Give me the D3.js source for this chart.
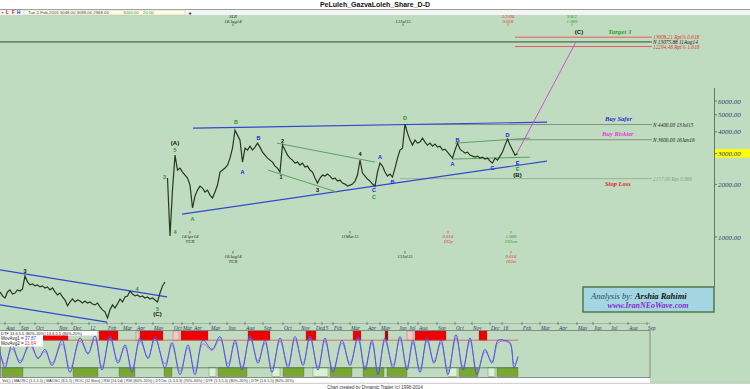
<!DOCTYPE html>
<html><head><meta charset="utf-8">
<script src="https://cdn.jsdelivr.net/npm/d3@7/dist/d3.min.js"></script>
<style>html,body{margin:0;padding:0;background:#fff;}svg{display:block;}</style>
</head><body>
<svg id="chart" width="750" height="389"></svg>
<script>
// ---------------- DATA ----------------
// bar index: one slot on the time axis
const leftStart = 0;
const leftClose = [485,460,448,485,498,472,478,498,491,505,599,553,532,539,525,532,518,525,511,518,498,511,485,466,478,454,436,404,425,442,425,436,430,419,430,419,425,414,409,419,398,383,373,344,383,409,393,414,442,425,454,460,491,472,460,466,454,460,448,454,442,448,436,425,478,525,553];
const mainStart = 67;
const mainClose = [2174,1013,1856,2941,2415,2479,2352,2261,2174,1982,
 1466,1715,1856,1956,1906,1808,1856,1738,1671,1808,
 1982,2352,2415,2479,2579,2828,3225,4087,3827,3583,
 2683,3225,3142,3311,3142,3268,3444,3268,3060,2941,
 2828,2754,2683,2545,2479,2352,3355,3142,2941,2828,
 2754,2648,2683,2579,2648,2512,2545,2415,2352,2174,
 2035,2174,2261,2231,2291,2231,2145,2174,2089,2117,
 2035,2008,1956,1982,2008,2089,2261,2754,2321,2231,
 2145,2089,2008,1956,2352,2648,2545,2352,2231,2291,
 2202,2479,2828,3142,3225,4423,3929,3583,3355,3583,
 3444,3490,3679,3490,3355,3444,3311,3400,3268,3311,
 3142,3183,3060,2941,2828,3142,3444,3183,3101,3020,
 3060,2941,2903,2865,2903,2828,2865,2791,2828,2718,
 2648,2828,2754,2903,3060,3355,3630,3355,3142,2941,3000];

const priceTicks = [1000,2000,3000,4000,5000,6000];
const lastPrice = 3000;

const monthLabels = ["Aug","Sep","Oct","Nov","Dec","12","Feb","Mar","Apr","May","Oct","Mar","Apr","May","Jun","Aug","Sep","Oct","Nov","Dec","15","Feb","Mar","Apr","May","Jun","Jul","Aug","Sep","Oct","Nov","Dec","16","Feb","Mar","Apr","May","Jun","Jul","Aug","Sep"];
const monthBars   = [2,8,14,23.2,28.8,35.6,42.8,48.8,54.4,61.2,69.2,72.8,77.2,84,90.8,98,105.2,113.2,120,126,128.8,133.2,140,146.8,152,159.2,163.2,167.2,174.8,182,188.8,196,200.8,208.8,216,223.2,230.8,237.2,244,251.2,258.8];

const levelPrices = [13908.21,13075.88,12294.48,4400,3600,2157];
const levelLabels = ["13908.21 Rpt% 0.618","N 13075.88 11Aug14","12294.48 Rpt% 1.618","N 4400.00 13Jul15","N 3600.00 16Jan16","2157.00 Rpt 0.886"];
const levelFrom   = [206,0,206,162,203,160];
const levelTo     = 260.8;

const blueLines  = [[[77.2,4196],[218.8,4541]],[[72.8,1353],[218.8,2718]],[[0,648],[66.8,454]],[[0,409],[42.8,326]]];
const greenLines = [[[110.8,3444],[150,2683]],[[107.2,2415],[134.8,1808]],[[182,3444],[212,3679]],[[180.8,2791],[212,2865]]];
const targetPath = [[206.8,3020],[230.4,13075.88]];

// wave labels: [bar, text, kind]
const waveBars  = [70,70,67,68,77,94,97,103,112,113,127,144,150,150,152,157,162,181,183,197,203,207,207,207,10,52,63,63];
const waveTexts = ["5","(A)","3","4","A","B","A","B","1","2","3","4","C","C","A","B","D","A","B","C","D","E","E","(B)","3","4","5","(C)"];
const waveKinds = ["g","k","g","g","g","g","b","b","k","k","k","k","b","g","b","b","g","b","b","b","b","b","g","k","k","g","g","k"];

// oscillator (DTF) turning points
const oscBars = [0,2,4.8,8,12,15.2,18,20.8,24.8,28,32,35.2,38,40.8,44,47.2,50,52.8,56,59.2,62,66,68.8,72,75.2,78,81.2,84.8,88,91.2,94,96.8,100,103.2,106,108.8,112,115.2,118,121.2,124,127.2,130,133.2,136.8,140,143.2,146,148.8,151.2,154,157.2,160,162.8,165.2,168,170.8,173.6,176.4,179.2,182.4,185.2,188,190.8,194,196.8,199.2,201.6,204,205.6,207.2];
const osc1 = [55,20,70,30,75,40,60,25,80,10,85,50,90,15,90,30,70,10,85,40,88,20,75,5,70,5,80,60,88,20,80,15,90,30,80,10,85,20,88,25,90,15,85,10,80,25,88,15,80,5,85,20,88,15,80,10,85,30,80,5,92,15,85,5,60,30,80,80,75,20,45];
const osc2 = [50,28,62,35,68,42,55,30,72,18,78,52,82,22,84,35,65,18,78,42,82,28,70,12,64,12,72,58,82,28,74,22,84,35,74,18,78,26,82,30,84,22,78,16,74,30,82,22,74,12,78,26,82,22,74,16,78,34,74,12,85,22,78,12,55,34,74,78,72,28,40];
const redZones   = [[17.2,27.2,"r"],[39.6,47.2,"r"],[54.4,55.6,"p"],[56,65.2,"r"],[69.2,71.6,"p"],[72.4,83.2,"r"],[99.2,108,"r"],[122.4,126.4,"r"],[141.2,144.4,"r"],[154,155.2,"d"],[162.8,165.2,"p"],[166,178.4,"r"],[191.6,194.8,"r"]];
const greenZones = [[0.8,9.2,"g"],[29.2,39.2,"g"],[47.6,54,"g"],[65.6,68.8,"g"],[83.6,86.4,"l"],[87.2,98.8,"g"],[108.8,112,"l"],[113.2,121.6,"g"],[125.2,131.2,"l"],[132,140.8,"g"],[145.2,153.6,"g"],[154.8,162.8,"g"],[179.2,182.8,"l"],[183.6,191.2,"g"],[195.2,198,"l"],[198.8,207.2,"g"]];

// ---------------- DRAW ----------------
const svg = d3.select("#chart");
const x  = d3.scaleLinear().domain([0,300]).range([0,750]);
const y  = d3.scaleLog().domain([1000,6000]).range([237,101]);
const yo = d3.scaleLinear().domain([0,100]).range([377,331]);
const SERIF = "Liberation Serif", SANS = "Liberation Sans";
function T(g,xp,yp,s,o){o=o||{};return g.append("text").attr("x",xp).attr("y",yp).text(s)
  .attr("font-family",o.f||SERIF).attr("font-size",o.s||6)
  .attr("font-style",o.i===false?"normal":"italic").attr("font-weight",o.b?"bold":"normal")
  .attr("fill",o.c||"#203060").attr("text-anchor",o.a||"start");}

// backgrounds
svg.append("rect").attr("width",750).attr("height",389).attr("fill","#ffffff");
svg.append("rect").attr("x",0).attr("y",15).attr("width",750).attr("height",368).attr("fill","#c0dcc0");
svg.append("line").attr("x1",0).attr("x2",750).attr("y1",9.5).attr("y2",9.5).attr("stroke","#9a9a9a");
svg.append("rect").attr("x",0).attr("y",10).attr("width",750).attr("height",5).attr("fill","#f4f4f4");
svg.append("rect").attr("x",24).attr("y",10).attr("width",161).attr("height",5).attr("fill","#ffffe6").attr("stroke","#bbbbbb").attr("stroke-width",0.5);
T(svg,375,7,"PeLuleh_GazvaLoleh_Share_D-D",{f:SANS,s:7,b:true,i:false,c:"#111",a:"middle"});
T(svg,2,14.3,"▪",{f:SANS,s:4.5,i:false,c:"#d00000"});
T(svg,6,14.3,"L",{f:SANS,s:4.5,i:false,b:true,c:"#d00000"});
T(svg,12,14.3,"F",{f:SANS,s:4.5,i:false,b:true,c:"#d00000"});
T(svg,17,14.3,"H",{f:SANS,s:4.5,i:false,b:true,c:"#2040c0"});
T(svg,28,14.3,"Tue 2-Feb-2016   3048.00   3098.00   2968.00",{f:SANS,s:4.3,i:false,c:"#444"});
T(svg,123,14.3,"3000.00",{f:SANS,s:4.3,i:false,c:"#2a9a2a"});
T(svg,143,14.3,"20.00",{f:SANS,s:4.3,i:false,c:"#2a9a2a"});
T(svg,190,14.6,"+",{f:SANS,s:6,i:false,b:true,c:"#000",a:"middle"});

// horizontal levels
levelPrices.forEach((p,i)=>{
  const isRed = i===0||i===2;
  const col = isRed?"#e85a5a":(i===1?"#6f8a6f":(i===5?"#9db09d":"#7f957f"));
  svg.append("line").attr("x1",x(levelFrom[i])).attr("x2",x(levelTo)).attr("y1",y(p)).attr("y2",y(p))
    .attr("stroke",col).attr("stroke-width",i===1?1.6:1);
  T(svg,x(levelTo)+1,y(p)+2,levelLabels[i],{s:5.3,c:isRed?"#e03030":(i===5?"#8f9f8f":"#1a1a1a")});
});

// trend lines
const lg = d3.line().x(d=>x(d[0])).y(d=>y(d[1]));
blueLines.forEach(l=>svg.append("path").attr("d",lg(l)).attr("stroke","#3048cc").attr("stroke-width",1.2).attr("fill","none"));
greenLines.forEach(l=>svg.append("path").attr("d",lg(l)).attr("stroke","#4f9a4f").attr("stroke-width",0.9).attr("fill","none"));
svg.append("path").attr("d",lg(targetPath)).attr("stroke","#d050d0").attr("stroke-width",1).attr("fill","none");

// price series
const pl = d3.line().x(d=>x(d[0])).y(d=>y(d[1]));
const leftPts = leftClose.map((v,i)=>[leftStart+i,v]);
const mainPts = mainClose.map((v,i)=>[mainStart+i,v]);
[leftPts,mainPts].forEach(pts=>svg.append("path").attr("d",pl(pts)).attr("stroke","#263626").attr("stroke-width",1.2).attr("fill","none").attr("stroke-linejoin","miter"));

// wave labels
function priceAt(b){return b<mainStart?leftClose[b-leftStart]:mainClose[b-mainStart];}
const waveOff = {"0":[0,-5],"1":[0,-12],"2":[-3,-1],"3":[5,-4],"4":[0,11],"5":[1,-8],"6":[0,10],"7":[1,-5],"8":[1,5],"9":[0,-4],"10":[0,7],"11":[0,-6],"12":[-1,4],"13":[-1,11],"14":[0,-6],"15":[0,5],"16":[0,-6],"17":[0,6],"18":[0,-3],"19":[0,5],"20":[0,-4],"21":[0,9],"22":[0,15],"23":[0,21],"24":[0,-5],"25":[7,-2],"26":[0,7],"27":[0,12]};
const kindCol = {g:"#1f9a1f",b:"#2020e0",k:"#111111"};
waveBars.forEach((b,i)=>{
  const o = waveOff[i];
  T(svg,x(b)+o[0],y(priceAt(b))+o[1]+2,waveTexts[i],{f:SANS,s:waveTexts[i].length>1?6:5.5,b:true,i:false,c:kindCol[waveKinds[i]],a:"middle"});
});

// target annotations
T(svg,x(231.6),34,"(C)",{f:SANS,s:6,b:true,i:false,c:"#111",a:"middle"});
T(svg,608,34,"Target 1",{s:7,b:true,c:"#2aa02a"});
T(svg,605,121,"Buy Safer",{s:6.5,b:true,c:"#2828c8"});
T(svg,602,136,"Buy Riskier",{s:6.5,b:true,c:"#e040e0"});
T(svg,605,186,"Stop Loss",{s:6.5,b:true,c:"#e02020"});

// time annotations
const topAnnBars = [93.2,161.2,203.2,228.8];
const topAnnText = [["SLR","18Aug14"],["","13Jul15"],["2/2/08","0.618"],["9/4/2","1.000"]];
const topAnnCol  = ["#203020","#203020","#e03030","#2a9a2a"];
topAnnBars.forEach((b,i)=>{
  T(svg,x(b),18,topAnnText[i][0],{s:4.8,c:topAnnCol[i],a:"middle"});
  T(svg,x(b),22.5,topAnnText[i][1],{s:4.8,c:topAnnCol[i],a:"middle"});
  svg.append("line").attr("x1",x(b)).attr("x2",x(b)).attr("y1",23.5).attr("y2",26).attr("stroke",topAnnCol[i]).attr("stroke-width",0.6);
});
const botAnnBars = [76,140,179.2,204.4,93.2,162,204.4];
const botAnnRow  = [0,0,0,0,1,1,1];
const botAnnText = [["14Apr14","TCR"],["11Mar15",""],["0.618","192p"],["1.000","192cm"],["18Aug14","TCR"],["13Jul15",""],["0.618","192m"]];
const botAnnCol  = ["#203020","#203020","#e03030","#2a9a2a","#203020","#203020","#e03030"];
botAnnBars.forEach((b,i)=>{
  const y0 = botAnnRow[i]?254:234;
  svg.append("line").attr("x1",x(b)).attr("x2",x(b)).attr("y1",y0-3).attr("y2",y0-0.5).attr("stroke",botAnnCol[i]).attr("stroke-width",0.6);
  T(svg,x(b),y0+4,botAnnText[i][0],{s:4.8,c:botAnnCol[i],a:"middle"});
  T(svg,x(b),y0+8.5,botAnnText[i][1],{s:4.8,c:botAnnCol[i],a:"middle"});
});

// price axis
svg.append("line").attr("x1",714.5).attr("x2",714.5).attr("y1",88).attr("y2",287).attr("stroke","#5c7a5c").attr("stroke-width",1);
svg.append("rect").attr("x",715).attr("y",y(lastPrice)-4.5).attr("width",35).attr("height",8.5).attr("fill","#ffff00");
priceTicks.forEach(p=>{
  svg.append("line").attr("x1",714.5).attr("x2",717).attr("y1",y(p)).attr("y2",y(p)).attr("stroke","#5c7a5c");
  T(svg,718,y(p)+2.5,d3.format(".2f")(p),{s:7,c:"#2a3a6a"});
});

// Analysis box
svg.append("rect").attr("x",583).attr("y",287).attr("width",131).attr("height",25).attr("fill","#a4d6e2").attr("stroke","#4f7a45").attr("stroke-width",1.5);
const at = svg.append("text").attr("x",591).attr("y",299).attr("font-family",SERIF).attr("font-style","italic").attr("font-size",8.5);
at.append("tspan").attr("fill","#1f4f60").text("Analysis by: ");
at.append("tspan").attr("fill","#111").attr("font-weight","bold").text("Arshia Rahimi");
T(svg,648,308,"www.IranNEoWave.com",{s:8,b:true,c:"#8a2ad0",a:"middle"});

// month axis
svg.append("line").attr("x1",0).attr("x2",650).attr("y1",323.5).attr("y2",323.5).attr("stroke","#8aa08a").attr("stroke-width",0.6);
monthLabels.forEach((m,i)=>{
  svg.append("line").attr("x1",x(monthBars[i])).attr("x2",x(monthBars[i])).attr("y1",322).attr("y2",325).attr("stroke","#3a4a6a").attr("stroke-width",0.6);
  T(svg,x(monthBars[i])+1,329.5,m,{s:5.3,c:"#2a3a6a"});
});

// indicator panel
const pg = svg.append("g");
pg.append("rect").attr("x",0.5).attr("y",330.5).attr("width",649.5).attr("height",47).attr("fill","#c0dcc0").attr("stroke","#8a8a8a").attr("stroke-width",1);
const zc = {r:"#ee0000",p:"#ffc4c4",d:"#b00000",g:"#78a832",l:"#d8f2d2"};
redZones.forEach(z=>pg.append("rect").attr("x",x(z[0])).attr("y",yo(100)).attr("width",x(z[1])-x(z[0])).attr("height",yo(80)-yo(100)).attr("fill",zc[z[2]]).attr("stroke","#555").attr("stroke-width",0.3));
greenZones.forEach(z=>pg.append("rect").attr("x",x(z[0])).attr("y",yo(20)).attr("width",x(z[1])-x(z[0])).attr("height",yo(1)-yo(20)).attr("fill",zc[z[2]]).attr("stroke","#555").attr("stroke-width",0.3));
pg.append("line").attr("x1",0).attr("x2",x(207.2)).attr("y1",yo(80)).attr("y2",yo(80)).attr("stroke","#e04040").attr("stroke-width",0.7);
pg.append("line").attr("x1",0).attr("x2",x(207.2)).attr("y1",yo(20)).attr("y2",yo(20)).attr("stroke","#3a6a3a").attr("stroke-width",0.7);
const ol1 = d3.line().x((d,i)=>x(oscBars[i])).y(d=>yo(d)).curve(d3.curveCatmullRom);
pg.append("path").attr("d",ol1(osc2)).attr("stroke","#b070e0").attr("stroke-width",1).attr("fill","none");
pg.append("path").attr("d",ol1(osc1)).attr("stroke","#4a58e0").attr("stroke-width",1).attr("fill","none");
pg.append("rect").attr("x",0).attr("y",331).attr("width",97).attr("height",4.5).attr("fill","#fff");
T(pg,1,334.8,"DTF 13.6.5.5 (80%-20%)  13.6.5.5 (80%-20%)",{f:SANS,s:4,i:false,c:"#222"});
pg.append("rect").attr("x",0).attr("y",335.5).attr("width",43).attr("height",11).attr("fill","#fff");
const m1 = pg.append("text").attr("x",1).attr("y",340).attr("font-family",SANS).attr("font-size",4.5);
m1.append("tspan").attr("fill","#222").text("MovAvg1 = ");m1.append("tspan").attr("fill","#3040e0").text("37.87");
const m2 = pg.append("text").attr("x",1).attr("y",345.3).attr("font-family",SANS).attr("font-size",4.5);
m2.append("tspan").attr("fill","#222").text("MovAvg2 = ");m2.append("tspan").attr("fill","#e03030").text("21.64");

// bottom strip
svg.append("rect").attr("x",0).attr("y",378).attr("width",650).attr("height",5).attr("fill","#ffffff");
svg.append("rect").attr("x",0).attr("y",383).attr("width",750).attr("height",6).attr("fill","#ffffff");
svg.append("line").attr("x1",0).attr("x2",750).attr("y1",383.3).attr("y2",383.3).attr("stroke","#a0a0a0").attr("stroke-width",0.6);
T(svg,2,382,"Vol(.)  |  MAOSC (1.5.5.1)  |  MAOSC (6.5.1)  |  ROC (12 Bars)  |  RSI (14.1d)  |  RSI (80%-20%)  |  DTOsc (1.3.3.3) (70%-30%)  |  DTF (1.3.5.5) (80%-20%)  |  DTF (1.6.5.5) (80%-20%)",{f:SANS,s:3.8,i:false,c:"#333"});
T(svg,375,388.5,"Chart created by Dynamic Trader  (c) 1996-2014",{f:SANS,s:4.5,i:false,c:"#333",a:"middle"});
</script></body></html>
